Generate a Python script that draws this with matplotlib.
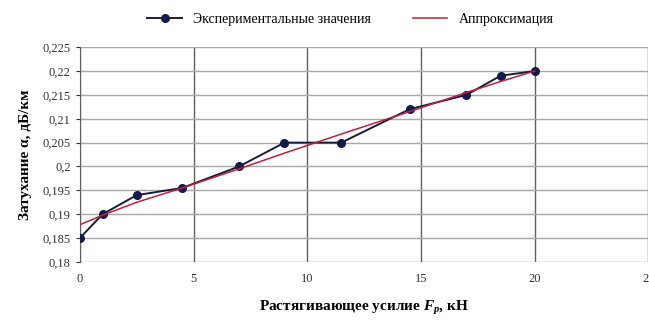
import matplotlib.pyplot as plt
from matplotlib.ticker import FuncFormatter, MultipleLocator

plt.rcParams['font.family'] = ['Liberation Serif', 'DejaVu Serif']
plt.rcParams['mathtext.fontset'] = 'custom'
plt.rcParams['mathtext.rm'] = 'Liberation Serif'
plt.rcParams['mathtext.it'] = 'Liberation Serif:italic:bold'
plt.rcParams['mathtext.bf'] = 'Liberation Serif:bold'

# Экспериментальные значения
force = [0, 1, 2.5, 4.5, 7, 9, 11.5, 14.5, 17, 18.5, 20]
atten = [0.185, 0.190, 0.194, 0.1955, 0.200, 0.205, 0.205, 0.212, 0.215, 0.219, 0.220]

# Аппроксимация
fit_x = [0, 1, 2.5, 4.5, 7, 9, 11.5, 14.5, 17, 18.5, 20]
fit_y = [0.1878, 0.1898, 0.1925, 0.1955, 0.1995, 0.2028, 0.2068, 0.2115, 0.2155, 0.2178, 0.2200]

fig = plt.figure(figsize=(6.49, 3.23), dpi=100)
ax = fig.add_axes([0.123, 0.189, 0.876, 0.665])

ax.plot(force, atten, color='#1a1a3a', lw=1.4, marker='o', ms=5.5,
        mfc='#141a4a', mec='#141a4a', label='Экспериментальные значения', zorder=3)
ax.plot(fit_x, fit_y, color='#c0203a', lw=1.1, label='Аппроксимация', zorder=4)

ax.set_xlim(0, 25)
ax.set_ylim(0.18, 0.225)
ax.xaxis.set_major_locator(MultipleLocator(5))
ax.yaxis.set_major_locator(MultipleLocator(0.005))
ax.yaxis.set_major_formatter(FuncFormatter(lambda v, p: f"{v:.3f}".rstrip('0').rstrip('.').replace('.', ',')))

ax.grid(axis='y', color='#a8a8a8', lw=1.0)
ax.grid(axis='x', color='#606060', lw=1.0)
for s in ['top', 'right', 'bottom']:
    ax.spines[s].set_visible(False)
ax.spines['left'].set_color('#606060')
ax.tick_params(length=3, labelsize=9, colors='#333333')
ax.tick_params(axis='x', length=0, pad=8)

ax.set_xlabel('Растягивающее усилие $F_р$, кН', fontsize=11, fontweight='bold', labelpad=10)
ax.set_ylabel('Затухание α, дБ/км', fontsize=11, fontweight='bold', labelpad=8)

fig.legend(loc='upper center', bbox_to_anchor=(0.54, 1.0), ncol=2, frameon=False,
           fontsize=10, handlelength=2.5, columnspacing=3)

fig.savefig('out.png', dpi=100)
